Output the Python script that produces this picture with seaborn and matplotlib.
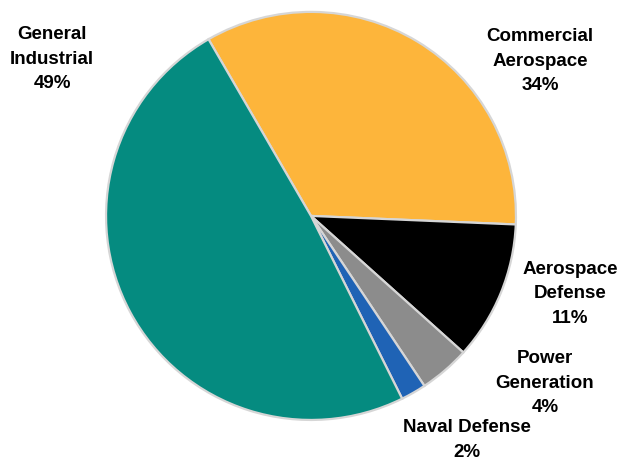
# revenue by end market pie
import numpy as np
import pandas as pd
import matplotlib.pyplot as plt
import seaborn as sns

segments = ['Commercial Aerospace', 'Aerospace Defense', 'Power Generation', 'Naval Defense', 'General Industrial']
shares = [34, 11, 4, 2, 49]
colors = ['#FDB53B', '#000000', '#8C8C8C', '#1F63B5', '#058B80']
label_text = ['Commercial\nAerospace\n34%', 'Aerospace\nDefense\n11%', 'Power\nGeneration\n4%',
              'Naval Defense\n2%', 'General\nIndustrial\n49%']

sns.set_style('white')
plt.rcParams['font.family'] = ['Liberation Sans', 'DejaVu Sans']

df = pd.DataFrame({'segment': segments, 'share': shares})

fig = plt.figure(figsize=(6.25, 4.61), dpi=100)
ax = fig.add_axes([104 / 625, 0.0846, 414 / 625, 0.894])
ax.pie(df['share'], colors=colors, startangle=120, counterclock=False,
       wedgeprops={'edgecolor': '#d6d6d6', 'linewidth': 1.6})
ax.set_aspect('auto')
ax.set_xlim(-1.01, 1.01)
ax.set_ylim(-1.01, 1.01)

# label spots in figure pixels (x, y from top)
spots = [(540, 61), (570, 294), (545, 383), (467, 440), (52, 59)]
for txt, (px, py) in zip(label_text, spots):
    fig.text(px / 625, 1 - py / 461, txt, ha='center', va='center', fontsize=13.5,
             fontweight='bold', linespacing=1.6, color='black')

fig.savefig('out.png', dpi=100)
